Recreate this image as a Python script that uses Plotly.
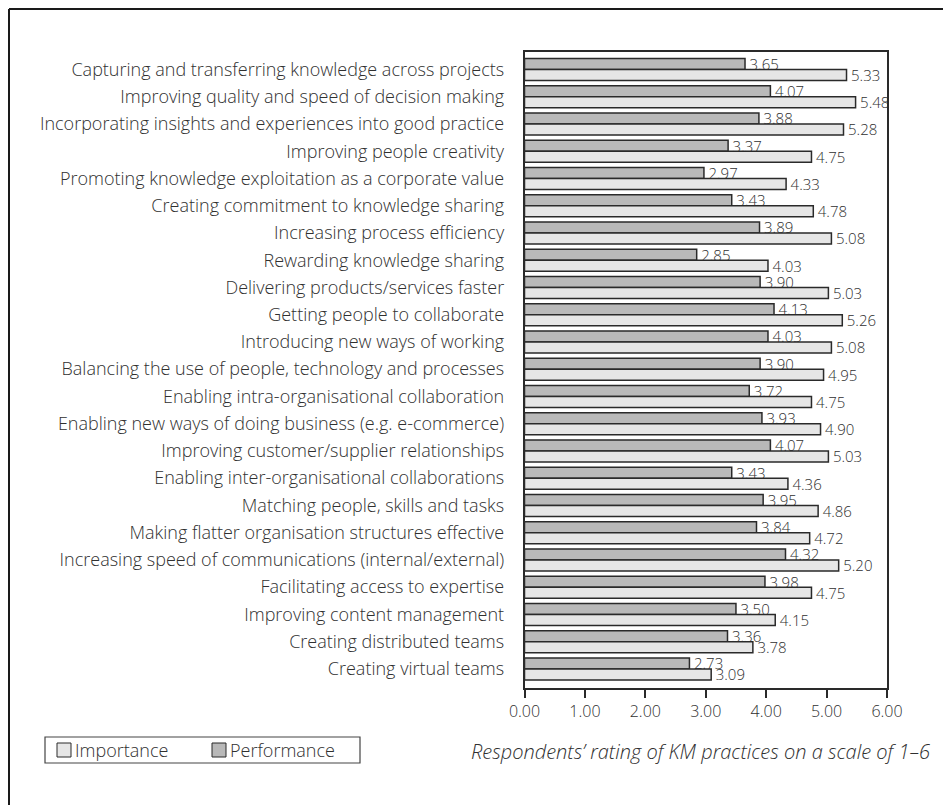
import plotly.graph_objects as go

# KM practice ratings (scale 1-6)
practices = [
    "Capturing and transferring knowledge across projects",
    "Improving quality and speed of decision making",
    "Incorporating insights and experiences into good practice",
    "Improving people creativity",
    "Promoting knowledge exploitation as a corporate value",
    "Creating commitment to knowledge sharing",
    "Increasing process efficiency",
    "Rewarding knowledge sharing",
    "Delivering products/services faster",
    "Getting people to collaborate",
    "Introducing new ways of working",
    "Balancing the use of people, technology and processes",
    "Enabling intra-organisational collaboration",
    "Enabling new ways of doing business (e.g. e-commerce)",
    "Improving customer/supplier relationships",
    "Enabling inter-organisational collaborations",
    "Matching people, skills and tasks",
    "Making flatter organisation structures effective",
    "Increasing speed of communications (internal/external)",
    "Facilitating access to expertise",
    "Improving content management",
    "Creating distributed teams",
    "Creating virtual teams",
]
importance = [5.33, 5.48, 5.28, 4.75, 4.33, 4.78, 5.08, 4.03, 5.03, 5.26, 5.08, 4.95,
              4.75, 4.90, 5.03, 4.36, 4.86, 4.72, 5.20, 4.75, 4.15, 3.78, 3.09]
performance = [3.65, 4.07, 3.88, 3.37, 2.97, 3.43, 3.89, 2.85, 3.90, 4.13, 4.03, 3.90,
               3.72, 3.93, 4.07, 3.43, 3.95, 3.84, 4.32, 3.98, 3.50, 3.36, 2.73]
x_ticks = [0, 1, 2, 3, 4, 5, 6]
series_names = ["Importance", "Performance"]
caption = "Respondents\u2019 rating of KM practices on a scale of 1\u20136"

W, H = 943, 805
FONT = "Open Sans"
INK = "#303030"
EDGE = "#2a2a2a"
FILL = {"Importance": "#e6e6e6", "Performance": "#b9b9b9"}
# plot-area edges in pixels
PL, PR, PT, PB = 524.5, 887, 52, 688


def px(x):
    return x / W


def py(y):
    return 1 - y / H


fig = go.Figure()
for name, vals in (("Performance", performance), ("Importance", importance)):
    fig.add_trace(go.Bar(
        name=name, y=practices, x=vals, orientation="h",
        marker=dict(color=FILL[name], line=dict(color=EDGE, width=1.5)),
        texttemplate="\u200a%{x:.2f}", textposition="outside",
        textfont=dict(family=FONT, size=15, color=INK, weight=300),
        constraintext="none", cliponaxis=False, showlegend=False,
    ))

fig.update_layout(
    width=W, height=H,
    margin=dict(l=0, r=0, t=0, b=0),
    paper_bgcolor="white", plot_bgcolor="white",
    barmode="group", bargap=0.19, bargroupgap=0,
    font=dict(family=FONT, size=16, color=INK, weight=300),
    xaxis=dict(
        domain=[px(PL), px(PR)], range=[0, 6], tickvals=x_ticks,
        ticktext=[f"{v:.2f}" for v in x_ticks],
        showgrid=False, zeroline=False,
        showline=True, linecolor=EDGE, linewidth=1.5, mirror=True,
        ticks="outside", ticklen=8, tickcolor=EDGE, tickwidth=1.5,
        tickfont=dict(family=FONT, size=16, color=INK, weight=300), automargin=False,
    ),
    yaxis=dict(
        domain=[py(PB), py(PT)],
        range=[len(practices) - 1 + 0.7, -0.64],
        showgrid=False, zeroline=False,
        showline=True, linecolor=EDGE, linewidth=1.5, mirror=True,
        ticks="", ticklabelstandoff=15,
        tickfont=dict(family=FONT, size=18, color=INK, weight=300), automargin=False,
    ),
    showlegend=False,
)

# legend box with swatches
fig.add_shape(type="rect", xref="paper", yref="paper",
              x0=px(45), x1=px(360), y0=py(763), y1=py(737),
              line=dict(color="#444444", width=1.2), fillcolor="white")
legend_items = [(series_names[0], 57, 73), (series_names[1], 212, 228)]
for name, sx, tx in legend_items:
    fig.add_shape(type="rect", xref="paper", yref="paper",
                  x0=px(sx), x1=px(sx + 14), y0=py(757), y1=py(743),
                  line=dict(color=EDGE, width=1), fillcolor=FILL[name])
    fig.add_annotation(text=name, xref="paper", yref="paper",
                       x=px(tx), y=py(750), xanchor="left", yanchor="middle",
                       showarrow=False,
                       font=dict(family=FONT, size=18, color=INK, weight=300))

fig.add_annotation(
    text=f"<i>{caption}</i>", xref="paper", yref="paper",
    x=px(932), y=py(751), xanchor="right", yanchor="middle",
    showarrow=False, font=dict(family=FONT, size=20, color=INK, weight=300),
)

# outer frame: top and left rules
fig.add_shape(type="line", xref="paper", yref="paper",
              x0=px(9), y0=py(9), x1=1.0, y1=py(9),
              line=dict(color="#1a1a1a", width=2))
fig.add_shape(type="line", xref="paper", yref="paper",
              x0=px(9), y0=py(9), x1=px(9), y1=0,
              line=dict(color="#1a1a1a", width=2))

fig.write_html("out.html")
